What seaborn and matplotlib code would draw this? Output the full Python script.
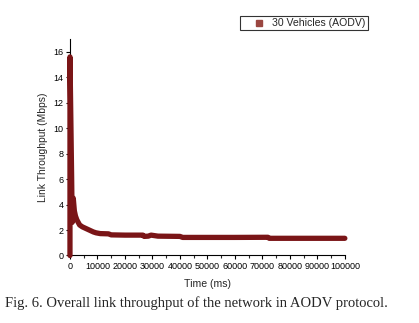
import matplotlib
matplotlib.use('Agg')
import matplotlib.pyplot as plt
from matplotlib.lines import Line2D
import seaborn as sns
import pandas as pd

# time (ms) and link throughput (Mbps)
time_ms = [0, 0, 600, 800, 1200, 1600, 2000, 2500, 3000, 3500, 4500, 5500,
           6500, 7500, 8500, 9500, 11000, 14000, 15000, 20000, 26500,
           27000, 28500, 29500, 32000, 40000, 41000, 60000, 72000, 72500, 100000]
throughput = [0.0, 15.6, 6.2, 2.6, 4.5, 3.5, 3.1, 2.8, 2.6, 2.4, 2.25, 2.15,
              2.05, 1.95, 1.85, 1.78, 1.72, 1.7, 1.62, 1.6, 1.6,
              1.5, 1.52, 1.6, 1.52, 1.5, 1.42, 1.42, 1.43, 1.35, 1.35]
series_label = "30 Vehicles (AODV)"
caption = "Fig. 6. Overall link throughput of the network in AODV protocol."

df = pd.DataFrame({'Time': time_ms, 'Throughput': throughput})

sns.set_theme(style="ticks")
plt.rcParams['font.family'] = ['Liberation Sans', 'DejaVu Sans']

fig = plt.figure(figsize=(4.19, 3.23), dpi=100)
ax = fig.add_axes([0.167, 0.209, 0.656, 0.670])

sns.lineplot(data=df, x='Time', y='Throughput', color='#7a1517',
             linewidth=3.8, ax=ax, legend=False, sort=False, estimator=None)
for ln in ax.lines:
    ln.set_clip_on(False)
    ln.set_zorder(3)

ax.set_xlim(0, 100000)
ax.set_ylim(0, 17)
ax.set_xticks(range(0, 100001, 10000))
ax.set_xticks(range(5000, 100000, 10000), minor=True)
ax.set_yticks(range(0, 17, 2))
ax.tick_params(axis='both', which='major', labelsize=6.5, length=3, width=0.8,
               direction='out', pad=1.5, colors='black')
ax.tick_params(axis='x', which='minor', length=2, width=0.8, direction='out')
for s in ['left', 'bottom']:
    ax.spines[s].set_linewidth(0.8)
    ax.spines[s].set_color('black')
sns.despine(ax=ax)

ax.set_xlabel("Time (ms)", fontsize=7.6, labelpad=6)
ax.set_ylabel("Link Throughput (Mbps)", fontsize=7.4, labelpad=4)

handle = Line2D([], [], linestyle='none', marker='s', markersize=4,
                color='#9a4640')
leg = fig.legend([handle], [series_label], loc='upper right',
                 bbox_to_anchor=(0.878, 0.950), fontsize=7.6, frameon=True,
                 fancybox=False, edgecolor='black', borderpad=0.2,
                 handlelength=3.2, handletextpad=-0.35, borderaxespad=0)
leg.get_frame().set_linewidth(0.8)

fig.text(0.012, 0.062, caption, fontsize=10.5,
         family=['Liberation Serif', 'DejaVu Serif'], ha='left', va='center')

fig.savefig('out.png', dpi=100)
